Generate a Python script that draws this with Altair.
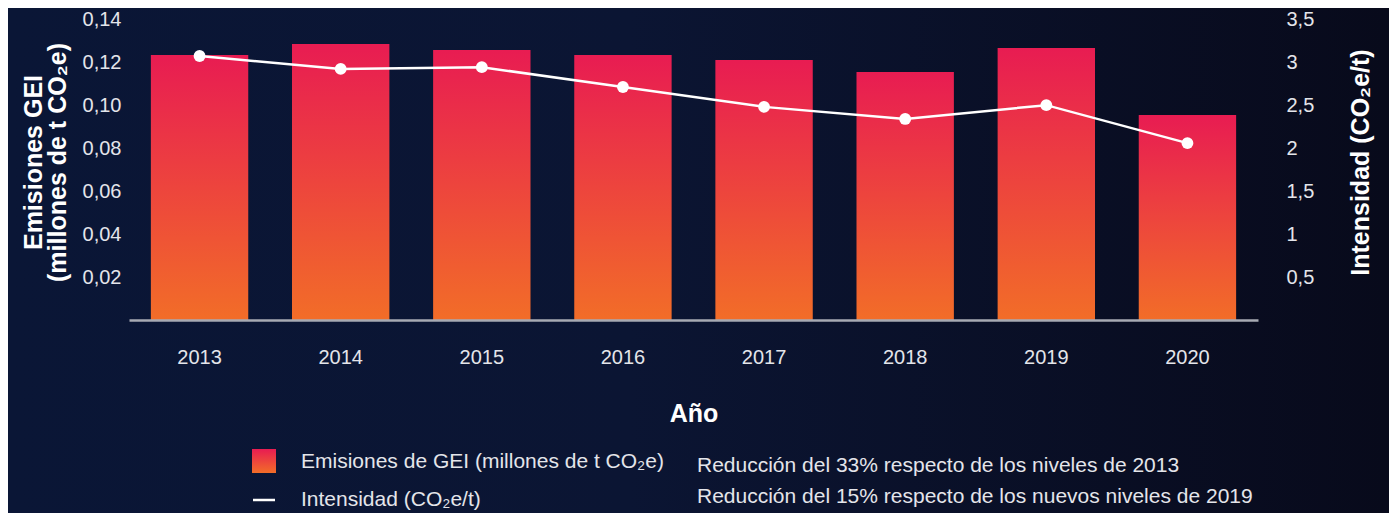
import altair as alt
import pandas as pd

years = ["2013", "2014", "2015", "2016", "2017", "2018", "2019", "2020"]
emissions = [0.1228, 0.1280, 0.1252, 0.1228, 0.1205, 0.1150, 0.1261, 0.0950]
intensity = [3.06, 2.91, 2.93, 2.70, 2.47, 2.33, 2.49, 2.05]

legend_labels = ["Emisiones de GEI (millones de t CO₂e)", "Intensidad (CO₂e/t)"]
notes = ["Reducción del 33% respecto de los niveles de 2013",
         "Reducción del 15% respecto de los nuevos niveles de 2019"]

df = pd.DataFrame({"Año": years, "emis": emissions, "inten": intensity})

W, H = 1129, 302
TOP = 10
BOTTOM = 193
FONT = "Liberation Sans"
LBL = "#e4e5ea"
LFS = 20      # tick label size
TFS = 25      # axis title size
GFS = 21      # legend text size

bar_grad = alt.Gradient(
    gradient="linear",
    stops=[alt.GradientStop(color="#E81C52", offset=0),
           alt.GradientStop(color="#F26D28", offset=1)],
    x1=0, x2=0, y1=0, y2=1)

bg_grad = alt.Gradient(
    gradient="linear",
    stops=[alt.GradientStop(color="#0a1636", offset=0),
           alt.GradientStop(color="#0b1533", offset=0.45),
           alt.GradientStop(color="#080a1b", offset=1)],
    x1=0, x2=1, y1=0, y2=0)

one = alt.Data(values=[{}])

xenc = alt.X("Año:N", sort=years,
             scale=alt.Scale(paddingInner=0.31, paddingOuter=0.155),
             axis=alt.Axis(title="Año", labelAngle=0, ticks=False, zindex=1,
                           domainColor="#a7aab3", domainWidth=2.5,
                           labelPadding=27, labelFontSize=LFS, labelColor=LBL,
                           labelFont=FONT, titleFont=FONT,
                           titleFontSize=TFS, titleFontWeight="bold", titleColor="white",
                           titleY=93, titleBaseline="middle"))

bg = alt.Chart(one).mark_rect(fill=bg_grad).encode(
    x=alt.value(-121), x2=alt.value(1260), y=alt.value(-TOP), y2=alt.value(H + BOTTOM))

bars = alt.Chart(df).mark_bar(fill=bar_grad).encode(
    x=xenc,
    y=alt.Y("emis:Q", scale=alt.Scale(domain=[0, 0.14], nice=False, zero=True),
            axis=alt.Axis(values=[0.02, 0.04, 0.06, 0.08, 0.10, 0.12, 0.14],
                          labelExpr="replace(format(datum.value, '.2f'), '.', ',')",
                          ticks=False, domain=False, grid=False, zindex=1,
                          labelPadding=8, labelOffset=1, labelFontSize=LFS,
                          labelColor=LBL, labelFont=FONT,
                          title=["Emisiones GEI", "(millones de t CO₂e)"],
                          titleFont=FONT, titleFontSize=TFS, titleFontWeight="bold",
                          titleColor="white", titleAngle=270, titleAlign="center",
                          titleBaseline="middle", titleLineHeight=24,
                          titleX=33 - 129, titleY=162 - 8 - TOP)))

yint = alt.Y("inten:Q", scale=alt.Scale(domain=[0, 3.5], nice=False, zero=True),
             axis=alt.Axis(orient="right",
                           values=[0.5, 1, 1.5, 2, 2.5, 3, 3.5],
                           labelExpr="replace(format(datum.value, '.1~f'), '.', ',')",
                           ticks=False, domain=False, grid=False, zindex=1,
                           labelPadding=28, labelOffset=1, labelFontSize=LFS,
                           labelColor=LBL, labelFont=FONT,
                           title="Intensidad (CO₂e/t)",
                           titleFont=FONT, titleFontSize=TFS, titleFontWeight="bold",
                           titleColor="white", titleAngle=270, titleAlign="center",
                           titleBaseline="middle", titleX=1360 - 1258, titleY=162 - 8 - TOP))

line = alt.Chart(df).mark_line(color="white", strokeWidth=2.5).encode(x=xenc, y=yint)
points = alt.Chart(df).mark_point(filled=True, color="white", opacity=1, size=140).encode(x=xenc, y=yint)

# legend (page coordinates minus plot origin)
OX, OY = 129, 8 + TOP
leg_sq = alt.Chart(one).mark_rect(fill=bar_grad).encode(
    x=alt.value(252 - OX), x2=alt.value(276 - OX), y=alt.value(449 - OY), y2=alt.value(473 - OY))
leg_ln = alt.Chart(one).mark_rule(color="white", strokeWidth=2.5).encode(
    x=alt.value(253 - OX), x2=alt.value(275 - OX), y=alt.value(500 - OY))

def txt(s, x, y):
    return alt.Chart(one).mark_text(align="left", baseline="middle", font=FONT,
                                    fontSize=GFS, color=LBL, text=s).encode(
        x=alt.value(x - OX), y=alt.value(y - OY))

texts = [txt(legend_labels[0], 301, 462), txt(legend_labels[1], 301, 500),
         txt(notes[0], 697, 466), txt(notes[1], 697, 497)]

chart = alt.layer(bg, bars, alt.layer(line, points), leg_sq, leg_ln, *texts).resolve_scale(
    y="independent"
).properties(
    width=W, height=H,
    autosize=alt.AutoSizeParams(type="none"),
    padding={"left": 121, "top": TOP, "right": 131, "bottom": BOTTOM},
    background="#0a1433",
).configure_view(stroke=None)

chart.save("out.html", embed_options={"renderer": "svg", "actions": False})
